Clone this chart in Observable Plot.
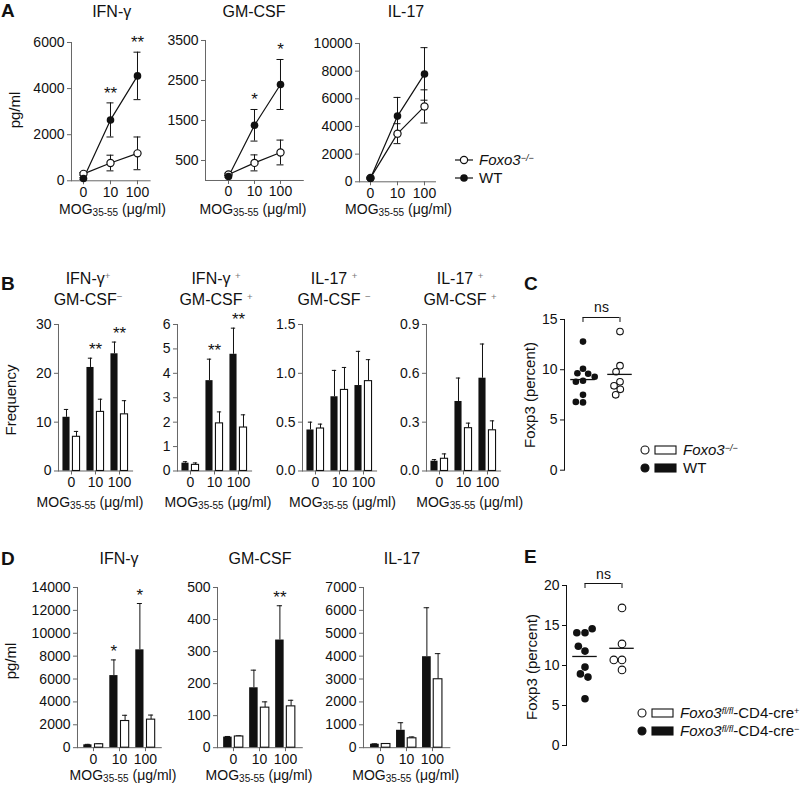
<!DOCTYPE html>
<html>
<head>
<meta charset="utf-8">
<script src="https://cdn.jsdelivr.net/npm/d3@7"></script>
<script src="https://cdn.jsdelivr.net/npm/@observablehq/plot@0.6"></script>
<style>
html,body{margin:0;padding:0;background:#fff;}
#fig{position:relative;width:800px;height:787px;overflow:hidden;background:#fff;font-family:"Liberation Sans",Arial,sans-serif;color:#111;}
#fig svg{position:absolute;overflow:visible;}
.lbl{position:absolute;white-space:nowrap;color:#111;}
.lbl sub{font-size:10px;vertical-align:-2px;line-height:0;}
.lbl sup{font-size:0.6em;vertical-align:0.5em;line-height:0;}
.lbl sup.g{color:#777;}
#fig svg [aria-label="y-axis tick"], #fig svg [aria-label="x-axis tick"], #fig svg [aria-label="frame"]{stroke:#666;}
</style>
</head>
<body>
<div id="fig"></div>
<script>
// ---------------- DATA ----------------
const doses = ["0", "10", "100"];

// Panel A: cytokines (pg/ml), mean and SEM; WT = filled, KO = Foxo3-/- open
const aIfngWT = [100, 2640, 4550];
const aIfngWTSem = [40, 740, 1030];
const aIfngKO = [300, 770, 1190];
const aIfngKOSem = [60, 340, 710];
const aIfngSig = ["", "**", "**"];
const aIfngTicks = [0, 2000, 4000, 6000];

const aGmWT = [100, 1380, 2400];
const aGmWTSem = [20, 395, 625];
const aGmKO = [150, 440, 700];
const aGmKOSem = [30, 200, 310];
const aGmSig = ["", "*", "*"];
const aGmTicks = [500, 1500, 2500, 3500];

const aIl17WT = [250, 4750, 7800];
const aIl17WTSem = [60, 1350, 1900];
const aIl17KO = [280, 3480, 5450];
const aIl17KOSem = [60, 720, 1200];
const aIl17Sig = ["", "", ""];
const aIl17Ticks = [0, 2000, 4000, 6000, 8000, 10000];

const aTitles = ["IFN-γ", "GM-CSF", "IL-17"];

// Panel B: frequency
const bIfnGmNegWT = [11.0, 21.2, 24.0];
const bIfnGmNegWTSem = [1.6, 1.9, 2.4];
const bIfnGmNegKO = [7.0, 12.1, 11.6];
const bIfnGmNegKOSem = [1.1, 2.6, 2.8];
const bIfnGmNegSig = ["", "**", "**"];
const bIfnGmNegTicks = [0, 10, 20, 30];

const bIfnGmPosWT = [0.32, 3.7, 4.78];
const bIfnGmPosWTSem = [0.06, 0.88, 1.07];
const bIfnGmPosKO = [0.25, 1.95, 1.78];
const bIfnGmPosKOSem = [0.08, 0.47, 0.52];
const bIfnGmPosSig = ["", "**", "**"];
const bIfnGmPosTicks = [0, 1, 2, 3, 4, 5, 6];

const bIl17GmNegWT = [0.42, 0.76, 0.875];
const bIl17GmNegWTSem = [0.08, 0.27, 0.35];
const bIl17GmNegKO = [0.435, 0.83, 0.92];
const bIl17GmNegKOSem = [0.045, 0.23, 0.22];
const bIl17GmNegSig = ["", "", ""];
const bIl17GmNegTicks = [0, 0.5, 1.0, 1.5];

const bIl17GmPosWT = [0.06, 0.427, 0.57];
const bIl17GmPosWTSem = [0.01, 0.144, 0.21];
const bIl17GmPosKO = [0.075, 0.263, 0.25];
const bIl17GmPosKOSem = [0.03, 0.031, 0.058];
const bIl17GmPosSig = ["", "", ""];
const bIl17GmPosTicks = [0, 0.3, 0.6, 0.9];

const bTitles = [
  ["IFN-γ<sup class='g'>+</sup>", "GM-CSF<sup class='g'>−</sup>"],
  ["IFN-γ <sup class='g'>+</sup>", "GM-CSF <sup class='g'>+</sup>"],
  ["IL-17 <sup class='g'>+</sup>", "GM-CSF <sup class='g'>−</sup>"],
  ["IL-17 <sup class='g'>+</sup>", "GM-CSF <sup class='g'>+</sup>"]
];

// Panel C: Foxp3 percent
const cWT = [12.8, 10.1, 9.65, 9.6, 9.3, 8.9, 8.8, 7.5, 6.75, 6.8];
const cKO = [13.8, 10.4, 9.8, 8.8, 8.4, 8.05, 7.5];
const cTicks = [0, 5, 10, 15];
const cSig = "ns";

// Panel D: cytokines (pg/ml), Foxo3fl/fl CD4-cre- (black) vs cre+ (white)
const dIfngWT = [250, 6300, 8550];
const dIfngWTSem = [40, 1370, 4050];
const dIfngKO = [300, 2330, 2450];
const dIfngKOSem = [40, 500, 400];
const dIfngSig = ["", "*", "*"];
const dIfngTicks = [0, 2000, 4000, 6000, 8000, 10000, 12000, 14000];

const dGmWT = [33, 187, 336];
const dGmWTSem = [2, 55, 107];
const dGmKO = [35, 125, 129];
const dGmKOSem = [2, 18, 19];
const dGmSig = ["", "", "**"];
const dGmTicks = [0, 100, 200, 300, 400, 500];

const dIl17WT = [150, 760, 3975];
const dIl17WTSem = [20, 330, 2140];
const dIl17KO = [160, 410, 2990];
const dIl17KOSem = [20, 60, 1120];
const dIl17Sig = ["", "", ""];
const dIl17Ticks = [0, 1000, 2000, 3000, 4000, 5000, 6000, 7000];

const dTitles = ["IFN-γ", "GM-CSF", "IL-17"];

// Panel E: Foxp3 percent
const eWT = [14.1, 14.1, 14.6, 11.8, 12.4, 9.8, 8.95, 8.55, 5.85];
const eKO = [17.2, 12.7, 10.7, 10.7, 9.45];
const eTicks = [0, 5, 10, 15, 20];
const eSig = "ns";

// Text
const xLabel = "MOG<sub>35-55</sub> (μg/ml)";
const legendKO1 = "<i>Foxo3</i><sup><i>−/−</i></sup>";
const legendWT1 = "WT";
const legendKO2 = "<i>Foxo3</i><sup><i>fl/fl</i></sup>-CD4-cre<sup>+</sup>";
const legendWT2 = "<i>Foxo3</i><sup><i>fl/fl</i></sup>-CD4-cre<sup>−</sup>";

// ---------------- HELPERS ----------------
const fig = document.getElementById("fig");
const FONT = '"Liberation Sans", Arial, sans-serif';
const INK = "#111";
const baseStyle = {background: "transparent", overflow: "visible", fontFamily: FONT, fontSize: "14px", color: INK};
const M = {l: 52, r: 10, t: 32, b: 30};

function place(svg, left, top) {
  svg.style.position = "absolute";
  svg.style.left = left + "px";
  svg.style.top = top + "px";
  fig.appendChild(svg);
}
function seriesRows(wt, wtSem, ko, koSem) {
  return doses.flatMap((d, i) => [
    {dose: d, g: "WT", v: wt[i], e: wtSem[i]},
    {dose: d, g: "KO", v: ko[i], e: koSem[i]}
  ]);
}
function sigRows(wt, wtSem, ko, koSem, sig) {
  return doses.map((d, i) => ({dose: d, s: sig[i], top: Math.max(wt[i] + wtSem[i], ko[i] + koSem[i])})).filter(d => d.s);
}
function label(html, x, baseline, opt = {}) {
  const size = opt.size || 14;
  const el = document.createElement("div");
  el.className = "lbl";
  el.innerHTML = html;
  Object.assign(el.style, {
    left: x + "px", top: (baseline - 0.8465 * size) + "px",
    fontSize: size + "px", lineHeight: size + "px",
    fontWeight: opt.bold ? "bold" : "normal"
  });
  const a = opt.anchor || "middle";
  if (a === "middle") el.style.transform = "translateX(-50%)";
  else if (a === "end") el.style.transform = "translateX(-100%)";
  fig.appendChild(el);
}
function vlabel(html, cx, cy, size) {
  const el = document.createElement("div");
  el.className = "lbl";
  el.innerHTML = html;
  Object.assign(el.style, {left: cx + "px", top: cy + "px", fontSize: size + "px", lineHeight: size + "px",
    transform: "translate(-50%,-50%) rotate(-90deg)"});
  fig.appendChild(el);
}

function lineChart(cfg, wt, wtSem, ko, koSem, sig, ticks) {
  const pad = (cfg.first - cfg.axisX) / cfg.step;
  const W = cfg.step * (2 + 2 * pad);
  const H = cfg.yBot - cfg.yTop;
  const rows = seriesRows(wt, wtSem, ko, koSem);
  const svg = Plot.plot({
    width: M.l + W + M.r, height: M.t + H + M.b,
    marginLeft: M.l, marginRight: M.r, marginTop: M.t, marginBottom: M.b,
    style: baseStyle,
    x: {type: "point", domain: doses, padding: pad, line: true, tickSize: 4, tickPadding: 2, label: null},
    y: {domain: [0, ticks[ticks.length - 1]], ticks, tickFormat: "d", tickSize: 4, tickPadding: 3, line: true, label: null},
    marks: [
      Plot.ruleX(rows, {x: "dose", y1: d => Math.max(0, d.v - d.e), y2: d => d.v + d.e, stroke: INK}),
      Plot.ruleY(rows, {x1: "dose", x2: "dose", y: d => d.v + d.e, insetLeft: -3.5, insetRight: -3.5, stroke: INK}),
      Plot.ruleY(rows.filter(d => d.v - d.e > 0), {x1: "dose", x2: "dose", y: d => d.v - d.e, insetLeft: -3.5, insetRight: -3.5, stroke: INK}),
      Plot.line(rows, {x: "dose", y: "v", z: "g", stroke: INK, strokeWidth: 1.2}),
      Plot.dot(rows.filter(d => d.g === "KO"), {x: "dose", y: "v", r: 3.6, fill: "white", stroke: INK, strokeWidth: 1.2}),
      Plot.dot(rows.filter(d => d.g === "WT"), {x: "dose", y: "v", r: 3.8, fill: INK}),
      Plot.text(sigRows(wt, wtSem, ko, koSem, sig), {x: "dose", y: "top", text: "s", dy: -4, lineAnchor: "bottom", fontSize: 17})
    ]
  });
  place(svg, cfg.axisX - M.l, cfg.yTop - M.t);
}

function barChart(cfg, wt, wtSem, ko, koSem, sig, ticks, fmt) {
  const W = cfg.step * (3 + 2 * cfg.po);
  const H = cfg.yBot - cfg.yTop;
  const bw = cfg.step;
  const ins = (bw - cfg.barW) / 2;
  const capIns = (bw - cfg.capW) / 2;
  const rows = seriesRows(wt, wtSem, ko, koSem);
  const wtRows = rows.filter(d => d.g === "WT");
  const koRows = rows.filter(d => d.g === "KO");
  const svg = Plot.plot({
    width: M.l + W + M.r, height: M.t + H + M.b,
    marginLeft: M.l, marginRight: M.r, marginTop: M.t, marginBottom: M.b,
    style: baseStyle,
    x: {type: "band", domain: doses, paddingInner: 0, paddingOuter: cfg.po, line: true, tickSize: 4, tickPadding: 2, label: null},
    y: {domain: [0, ticks[ticks.length - 1]], ticks, tickFormat: fmt, tickSize: 4, tickPadding: 3, line: true, label: null},
    marks: [
      Plot.ruleX(wtRows, {x: "dose", y1: "v", y2: d => d.v + d.e, dx: -cfg.off, stroke: INK}),
      Plot.tickY(wtRows, {x: "dose", y: d => d.v + d.e, dx: -cfg.off, insetLeft: capIns, insetRight: capIns, stroke: INK}),
      Plot.ruleX(koRows, {x: "dose", y1: "v", y2: d => d.v + d.e, dx: cfg.off, stroke: INK}),
      Plot.tickY(koRows, {x: "dose", y: d => d.v + d.e, dx: cfg.off, insetLeft: capIns, insetRight: capIns, stroke: INK}),
      Plot.barY(wtRows, {x: "dose", y: "v", dx: -cfg.off, insetLeft: ins, insetRight: ins, fill: INK}),
      Plot.barY(koRows, {x: "dose", y: "v", dx: cfg.off, insetLeft: ins, insetRight: ins, fill: "white", stroke: INK, strokeWidth: 1.1}),
      Plot.text(sigRows(wt, wtSem, ko, koSem, sig), {x: "dose", y: "top", text: "s", dx: cfg.starDx, dy: -3, lineAnchor: "bottom", fontSize: 17})
    ]
  });
  place(svg, cfg.axisX - M.l, cfg.yTop - M.t);
}

function scatterChart(cfg, wt, ko, ticks, sig) {
  const bw = cfg.bandW;
  const W = 2 * bw;
  const H = cfg.yBot - cfg.yTop;
  const top = ticks[ticks.length - 1];
  const pts = [...wt.map(v => ({g: "WT", v})), ...ko.map(v => ({g: "KO", v}))];
  const means = [{g: "WT", m: d3.mean(wt)}, {g: "KO", m: d3.mean(ko)}];
  const grp = [{g: "WT"}, {g: "KO"}];
  const svg = Plot.plot({
    width: M.l + W + M.r, height: M.t + H + M.b,
    marginLeft: M.l, marginRight: M.r, marginTop: M.t, marginBottom: M.b,
    style: baseStyle,
    fx: {domain: ["WT", "KO"], padding: 0, axis: null, label: null},
    y: {domain: [0, top], ticks, tickFormat: "d", tickSize: 4, tickPadding: 3, line: true, label: null},
    marks: [
      Plot.dot(pts.filter(d => d.g === "WT"), Plot.dodgeX({anchor: "middle", padding: 0.6}, {fx: "g", y: "v", r: cfg.r, fill: INK})),
      Plot.dot(pts.filter(d => d.g === "KO"), Plot.dodgeX({anchor: "middle", padding: 0.6}, {fx: "g", y: "v", r: cfg.r, fill: "white", stroke: INK, strokeWidth: 1.1})),
      Plot.tickY(means, {fx: "g", y: "m", inset: (bw - cfg.meanW) / 2, stroke: INK, strokeWidth: 1.3}),
      Plot.ruleY([grp[0]], {fx: "g", y: () => top, dy: -2, insetLeft: bw / 2, stroke: INK}),
      Plot.ruleY([grp[1]], {fx: "g", y: () => top, dy: -2, insetRight: bw / 2, stroke: INK}),
      Plot.ruleX(grp, {fx: "g", x: null, y1: () => top, y2: () => top, dy: -2, insetBottom: -5, stroke: INK}),
      Plot.text([grp[0]], {fx: "g", y: () => top, text: () => sig, frameAnchor: "right", textAnchor: "middle", dy: -7, lineAnchor: "bottom", fontSize: 14})
    ]
  });
  place(svg, cfg.axisX - M.l, cfg.yTop - M.t);
}

// ---------------- PANEL A ----------------
lineChart({axisX: 71, first: 83.3, step: 27, yTop: 41.7, yBot: 180}, aIfngWT, aIfngWTSem, aIfngKO, aIfngKOSem, aIfngSig, aIfngTicks);
lineChart({axisX: 204.5, first: 226.7, step: 26.7, yTop: 40, yBot: 180}, aGmWT, aGmWTSem, aGmKO, aGmKOSem, aGmSig, aGmTicks);
lineChart({axisX: 359, first: 370, step: 27, yTop: 42.7, yBot: 181}, aIl17WT, aIl17WTSem, aIl17KO, aIl17KOSem, aIl17Sig, aIl17Ticks);

// ---------------- PANEL B ----------------
const bCfg = {step: 24.7, po: 0, yTop: 324, yBot: 470.5, off: 5, barW: 7.8, capW: 5, starDx: 0};
barChart({...bCfg, axisX: 58.3}, bIfnGmNegWT, bIfnGmNegWTSem, bIfnGmNegKO, bIfnGmNegKOSem, bIfnGmNegSig, bIfnGmNegTicks, "d");
barChart({...bCfg, axisX: 176.7}, bIfnGmPosWT, bIfnGmPosWTSem, bIfnGmPosKO, bIfnGmPosKOSem, bIfnGmPosSig, bIfnGmPosTicks, "d");
barChart({...bCfg, axisX: 301.7}, bIl17GmNegWT, bIl17GmNegWTSem, bIl17GmNegKO, bIl17GmNegKOSem, bIl17GmNegSig, bIl17GmNegTicks, ".1f");
barChart({...bCfg, axisX: 425.7}, bIl17GmPosWT, bIl17GmPosWTSem, bIl17GmPosKO, bIl17GmPosKOSem, bIl17GmPosSig, bIl17GmPosTicks, ".1f");

// ---------------- PANEL C ----------------
scatterChart({axisX: 563.3, yTop: 319.3, yBot: 470, bandW: 37.5, r: 3.3, meanW: 25}, cWT, cKO, cTicks, cSig);

// ---------------- PANEL D ----------------
const dCfg = {yTop: 586.5, yBot: 746.7, off: 5.6, barW: 9.2, capW: 6, starDx: -5.6};
barChart({...dCfg, axisX: 77.3, step: 27, po: 0.052}, dIfngWT, dIfngWTSem, dIfngKO, dIfngKOSem, dIfngSig, dIfngTicks, "d");
barChart({...dCfg, axisX: 217.3, step: 26.7, po: 0.088}, dGmWT, dGmWTSem, dGmKO, dGmKOSem, dGmSig, dGmTicks, "d");
barChart({...dCfg, axisX: 363.3, step: 26.5, po: 0.13}, dIl17WT, dIl17WTSem, dIl17KO, dIl17KOSem, dIl17Sig, dIl17Ticks, "d");

// ---------------- PANEL E ----------------
scatterChart({axisX: 565, yTop: 585, yBot: 745, bandW: 37.5, r: 3.8, meanW: 25}, eWT, eKO, eTicks, eSig);

// ---------------- TEXT ----------------
// panel letters
label("A", 1, 17, {size: 19, bold: true, anchor: "start"});
label("B", 1, 290, {size: 19, bold: true, anchor: "start"});
label("C", 524, 290, {size: 19, bold: true, anchor: "start"});
label("D", 1, 565, {size: 19, bold: true, anchor: "start"});
label("E", 524, 563, {size: 19, bold: true, anchor: "start"});

// titles
[111.7, 254, 406].forEach((x, i) => label(aTitles[i], x, 18, {size: 16}));
[88, 216, 334, 460].forEach((x, i) => {
  label(bTitles[i][0], x, 285, {size: 16});
  label(bTitles[i][1], x, 306, {size: 16});
});
[119, 260, 402].forEach((x, i) => label(dTitles[i], x, 565, {size: 16}));

// x labels
[112.5, 253, 398.5].forEach(x => label(xLabel, x, 214, {size: 14}));
[90, 218, 342.5, 469.7].forEach(x => label(xLabel, x, 506.5, {size: 14}));
[123, 259, 405.7].forEach(x => label(xLabel, x, 780, {size: 14}));

// y labels
vlabel("pg/ml", 14, 110, 15);
vlabel("Frequency", 10, 400, 15);
vlabel("pg/ml", 10, 661, 15);
vlabel("Foxp3 (percent)", 529, 395, 15);
vlabel("Foxp3 (percent)", 531, 667, 15);

// ---------------- LEGENDS ----------------
const ov = d3.create("svg").attr("width", 800).attr("height", 787).style("left", "0px").style("top", "0px");
fig.appendChild(ov.node());
function legLine(x, y, open) {
  ov.append("line").attr("x1", x).attr("x2", x + 18).attr("y1", y).attr("y2", y).attr("stroke", INK).attr("stroke-width", 1.2);
  ov.append("circle").attr("cx", x + 9).attr("cy", y).attr("r", open ? 3.6 : 3.8)
    .attr("fill", open ? "white" : INK).attr("stroke", INK).attr("stroke-width", open ? 1.2 : 0);
}
function legBox(x, y, open) {
  ov.append("circle").attr("cx", x).attr("cy", y).attr("r", 4).attr("fill", open ? "white" : INK).attr("stroke", INK).attr("stroke-width", 1.1);
  ov.append("rect").attr("x", x + 10).attr("y", y - 4).attr("width", 21).attr("height", 8)
    .attr("fill", open ? "white" : INK).attr("stroke", INK).attr("stroke-width", 1.1);
}
legLine(455, 160, true);  label(legendKO1, 479, 165, {size: 15, anchor: "start"});
legLine(455, 178, false); label(legendWT1, 479, 183, {size: 15, anchor: "start"});
legBox(645, 450, true);   label(legendKO1, 683, 455, {size: 15, anchor: "start"});
legBox(645, 468, false);  label(legendWT1, 683, 473, {size: 15, anchor: "start"});
legBox(642, 713, true);   label(legendKO2, 680, 718, {size: 15, anchor: "start"});
legBox(642, 731, false);  label(legendWT2, 680, 736, {size: 15, anchor: "start"});
</script>
</body>
</html>
